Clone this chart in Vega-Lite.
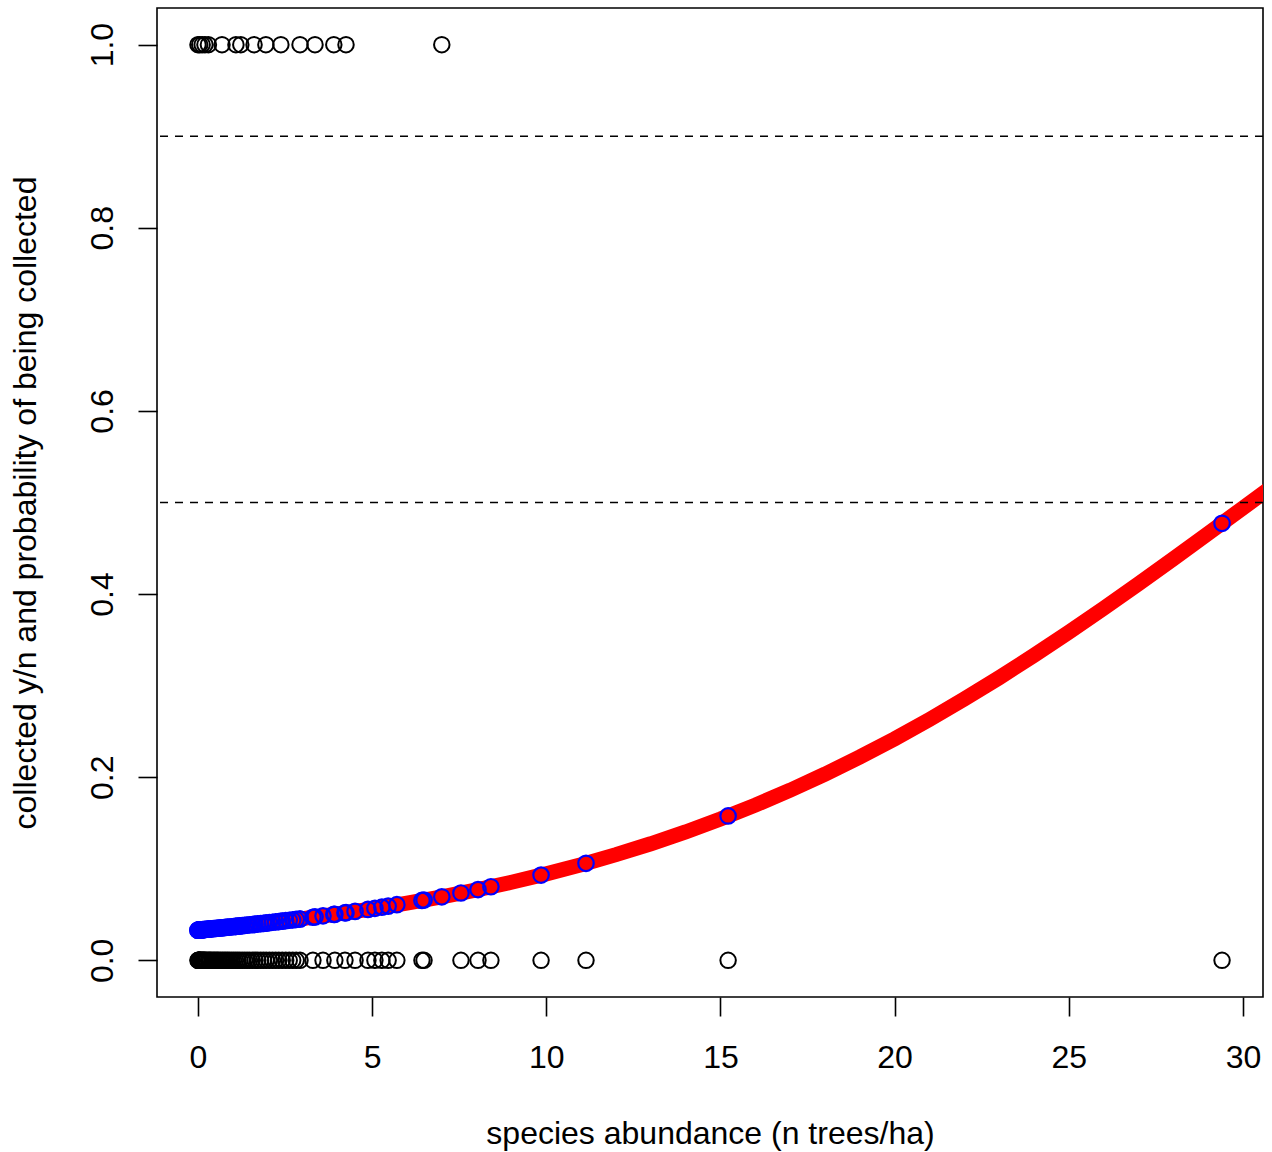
{
  "$schema": "https://vega.github.io/schema/vega-lite/v6.json",
  "width": 1106,
  "height": 989,
  "autosize": "none",
  "padding": {"left": 157, "top": 8, "right": 9, "bottom": 155},
  "background": "white",
  "config": {
    "font": "Liberation Sans",
    "view": {"stroke": "black", "strokeWidth": 1.6}
  },
  "datasets": {
    "obs": [
      {"abundance": 0, "collected": 1, "fitted": 0.0330},
      {"abundance": 0.05, "collected": 1, "fitted": 0.0332},
      {"abundance": 0.12, "collected": 1, "fitted": 0.0334},
      {"abundance": 0.2, "collected": 1, "fitted": 0.0337},
      {"abundance": 0.3, "collected": 1, "fitted": 0.0341},
      {"abundance": 0.69, "collected": 1, "fitted": 0.0356},
      {"abundance": 1.09, "collected": 1, "fitted": 0.0371},
      {"abundance": 1.23, "collected": 1, "fitted": 0.0377},
      {"abundance": 1.61, "collected": 1, "fitted": 0.0393},
      {"abundance": 1.95, "collected": 1, "fitted": 0.0407},
      {"abundance": 2.38, "collected": 1, "fitted": 0.0427},
      {"abundance": 2.93, "collected": 1, "fitted": 0.0452},
      {"abundance": 3.36, "collected": 1, "fitted": 0.0474},
      {"abundance": 3.9, "collected": 1, "fitted": 0.0502},
      {"abundance": 4.25, "collected": 1, "fitted": 0.0521},
      {"abundance": 7.0, "collected": 1, "fitted": 0.0694},
      {"abundance": 0, "collected": 0, "fitted": 0.0330},
      {"abundance": 0.01, "collected": 0, "fitted": 0.0330},
      {"abundance": 0.02, "collected": 0, "fitted": 0.0331},
      {"abundance": 0.03, "collected": 0, "fitted": 0.0331},
      {"abundance": 0.04, "collected": 0, "fitted": 0.0331},
      {"abundance": 0.05, "collected": 0, "fitted": 0.0332},
      {"abundance": 0.06, "collected": 0, "fitted": 0.0332},
      {"abundance": 0.08, "collected": 0, "fitted": 0.0333},
      {"abundance": 0.1, "collected": 0, "fitted": 0.0334},
      {"abundance": 0.12, "collected": 0, "fitted": 0.0334},
      {"abundance": 0.14, "collected": 0, "fitted": 0.0335},
      {"abundance": 0.16, "collected": 0, "fitted": 0.0336},
      {"abundance": 0.18, "collected": 0, "fitted": 0.0337},
      {"abundance": 0.2, "collected": 0, "fitted": 0.0337},
      {"abundance": 0.23, "collected": 0, "fitted": 0.0339},
      {"abundance": 0.26, "collected": 0, "fitted": 0.0340},
      {"abundance": 0.3, "collected": 0, "fitted": 0.0341},
      {"abundance": 0.33, "collected": 0, "fitted": 0.0342},
      {"abundance": 0.36, "collected": 0, "fitted": 0.0343},
      {"abundance": 0.4, "collected": 0, "fitted": 0.0345},
      {"abundance": 0.44, "collected": 0, "fitted": 0.0346},
      {"abundance": 0.48, "collected": 0, "fitted": 0.0348},
      {"abundance": 0.52, "collected": 0, "fitted": 0.0349},
      {"abundance": 0.56, "collected": 0, "fitted": 0.0351},
      {"abundance": 0.6, "collected": 0, "fitted": 0.0352},
      {"abundance": 0.65, "collected": 0, "fitted": 0.0354},
      {"abundance": 0.7, "collected": 0, "fitted": 0.0356},
      {"abundance": 0.75, "collected": 0, "fitted": 0.0358},
      {"abundance": 0.8, "collected": 0, "fitted": 0.0360},
      {"abundance": 0.85, "collected": 0, "fitted": 0.0362},
      {"abundance": 0.9, "collected": 0, "fitted": 0.0364},
      {"abundance": 0.96, "collected": 0, "fitted": 0.0366},
      {"abundance": 1.02, "collected": 0, "fitted": 0.0368},
      {"abundance": 1.08, "collected": 0, "fitted": 0.0371},
      {"abundance": 1.14, "collected": 0, "fitted": 0.0373},
      {"abundance": 1.2, "collected": 0, "fitted": 0.0376},
      {"abundance": 1.27, "collected": 0, "fitted": 0.0379},
      {"abundance": 1.34, "collected": 0, "fitted": 0.0382},
      {"abundance": 1.41, "collected": 0, "fitted": 0.0385},
      {"abundance": 1.48, "collected": 0, "fitted": 0.0388},
      {"abundance": 1.56, "collected": 0, "fitted": 0.0391},
      {"abundance": 1.64, "collected": 0, "fitted": 0.0394},
      {"abundance": 1.72, "collected": 0, "fitted": 0.0398},
      {"abundance": 1.8, "collected": 0, "fitted": 0.0401},
      {"abundance": 1.88, "collected": 0, "fitted": 0.0404},
      {"abundance": 1.96, "collected": 0, "fitted": 0.0407},
      {"abundance": 2.05, "collected": 0, "fitted": 0.0412},
      {"abundance": 2.14, "collected": 0, "fitted": 0.0416},
      {"abundance": 2.23, "collected": 0, "fitted": 0.0420},
      {"abundance": 2.32, "collected": 0, "fitted": 0.0424},
      {"abundance": 2.42, "collected": 0, "fitted": 0.0428},
      {"abundance": 2.52, "collected": 0, "fitted": 0.0433},
      {"abundance": 2.62, "collected": 0, "fitted": 0.0438},
      {"abundance": 2.72, "collected": 0, "fitted": 0.0442},
      {"abundance": 2.82, "collected": 0, "fitted": 0.0447},
      {"abundance": 2.93, "collected": 0, "fitted": 0.0452},
      {"abundance": 3.3, "collected": 0, "fitted": 0.0471},
      {"abundance": 3.59, "collected": 0, "fitted": 0.0486},
      {"abundance": 3.93, "collected": 0, "fitted": 0.0503},
      {"abundance": 4.22, "collected": 0, "fitted": 0.0519},
      {"abundance": 4.51, "collected": 0, "fitted": 0.0535},
      {"abundance": 4.88, "collected": 0, "fitted": 0.0556},
      {"abundance": 5.08, "collected": 0, "fitted": 0.0568},
      {"abundance": 5.28, "collected": 0, "fitted": 0.0581},
      {"abundance": 5.46, "collected": 0, "fitted": 0.0592},
      {"abundance": 5.71, "collected": 0, "fitted": 0.0608},
      {"abundance": 6.43, "collected": 0, "fitted": 0.0655},
      {"abundance": 6.49, "collected": 0, "fitted": 0.0659},
      {"abundance": 7.55, "collected": 0, "fitted": 0.0736},
      {"abundance": 8.04, "collected": 0, "fitted": 0.0773},
      {"abundance": 8.41, "collected": 0, "fitted": 0.0804},
      {"abundance": 9.85, "collected": 0, "fitted": 0.0931},
      {"abundance": 11.14, "collected": 0, "fitted": 0.1060},
      {"abundance": 15.22, "collected": 0, "fitted": 0.1577},
      {"abundance": 29.4, "collected": 0, "fitted": 0.4773}
    ],
    "curve": [
      {"abundance": 0, "p": 0.03299},
      {"abundance": 1, "p": 0.03675},
      {"abundance": 2, "p": 0.04092},
      {"abundance": 3, "p": 0.04554},
      {"abundance": 4, "p": 0.05066},
      {"abundance": 5, "p": 0.05631},
      {"abundance": 6, "p": 0.06255},
      {"abundance": 7, "p": 0.06943},
      {"abundance": 8, "p": 0.07702},
      {"abundance": 9, "p": 0.08535},
      {"abundance": 10, "p": 0.09449},
      {"abundance": 11, "p": 0.10450},
      {"abundance": 12, "p": 0.11541},
      {"abundance": 13, "p": 0.12735},
      {"abundance": 14, "p": 0.14025},
      {"abundance": 15, "p": 0.15435},
      {"abundance": 16, "p": 0.16949},
      {"abundance": 17, "p": 0.18580},
      {"abundance": 18, "p": 0.20333},
      {"abundance": 19, "p": 0.22207},
      {"abundance": 20, "p": 0.24196},
      {"abundance": 21, "p": 0.26309},
      {"abundance": 22, "p": 0.28531},
      {"abundance": 23, "p": 0.30864},
      {"abundance": 24, "p": 0.33300},
      {"abundance": 25, "p": 0.35829},
      {"abundance": 26, "p": 0.38432},
      {"abundance": 27, "p": 0.41118},
      {"abundance": 28, "p": 0.43840},
      {"abundance": 29, "p": 0.46613},
      {"abundance": 30, "p": 0.49402},
      {"abundance": 31, "p": 0.52197}
    ],
    "hlines": [{"h": 0.9}, {"h": 0.5}]
  },
  "layer": [
    {
      "data": {"name": "obs"},
      "mark": {"type": "point", "shape": "circle", "filled": false, "stroke": "black", "strokeWidth": 2, "size": 240, "opacity": 1},
      "encoding": {
        "x": {
          "field": "abundance", "type": "quantitative",
          "scale": {"domain": [-1.176, 30.576], "nice": false, "zero": false},
          "axis": {
            "title": "species abundance (n trees/ha)",
            "values": [0, 5, 10, 15, 20, 25, 30],
            "grid": false, "domain": false,
            "tickSize": 19, "tickWidth": 1.6, "tickColor": "black",
            "labelFontSize": 32, "labelColor": "black", "labelPadding": 51,
            "labelBaseline": "alphabetic", "labelFlush": false, "labelOverlap": false,
            "titleFontSize": 32, "titleFontWeight": "normal", "titleColor": "black",
            "titleX": 553, "titleY": 146, "titleBaseline": "alphabetic", "titleAlign": "center"
          }
        },
        "y": {
          "field": "collected", "type": "quantitative",
          "scale": {"domain": [-0.04, 1.04], "nice": false, "zero": false},
          "axis": {
            "title": "collected y/n and probability of being collected",
            "values": [0, 0.2, 0.4, 0.6, 0.8, 1.0],
            "format": ".1f",
            "grid": false, "domain": false,
            "tickSize": 19, "tickWidth": 1.6, "tickColor": "black",
            "labelFontSize": 32, "labelColor": "black", "labelPadding": 26,
            "labelAngle": -90, "labelAlign": "center", "labelBaseline": "alphabetic",
            "labelFlush": false, "labelOverlap": false,
            "titleFontSize": 32, "titleFontWeight": "normal", "titleColor": "black",
            "titleAngle": -90, "titleX": -122, "titleY": 494.5,
            "titleBaseline": "alphabetic", "titleAlign": "center"
          }
        }
      }
    },
    {
      "data": {"name": "curve"},
      "mark": {"type": "line", "color": "#FF0000", "strokeWidth": 15, "strokeCap": "butt", "clip": true},
      "encoding": {
        "x": {"field": "abundance", "type": "quantitative", "scale": {"domain": [-1.176, 30.576], "nice": false, "zero": false}},
        "y": {"field": "p", "type": "quantitative", "scale": {"domain": [-0.04, 1.04], "nice": false, "zero": false}}
      }
    },
    {
      "data": {"name": "obs"},
      "mark": {"type": "point", "shape": "circle", "filled": false, "stroke": "#0000FF", "strokeWidth": 2.2, "size": 240, "opacity": 1},
      "encoding": {
        "x": {"field": "abundance", "type": "quantitative", "scale": {"domain": [-1.176, 30.576], "nice": false, "zero": false}},
        "y": {"field": "fitted", "type": "quantitative", "scale": {"domain": [-0.04, 1.04], "nice": false, "zero": false}}
      }
    },
    {
      "data": {"name": "hlines"},
      "mark": {"type": "rule", "color": "black", "strokeWidth": 1.6, "strokeDash": [8, 7]},
      "encoding": {
        "y": {"field": "h", "type": "quantitative", "scale": {"domain": [-0.04, 1.04], "nice": false, "zero": false}}
      }
    }
  ]
}
